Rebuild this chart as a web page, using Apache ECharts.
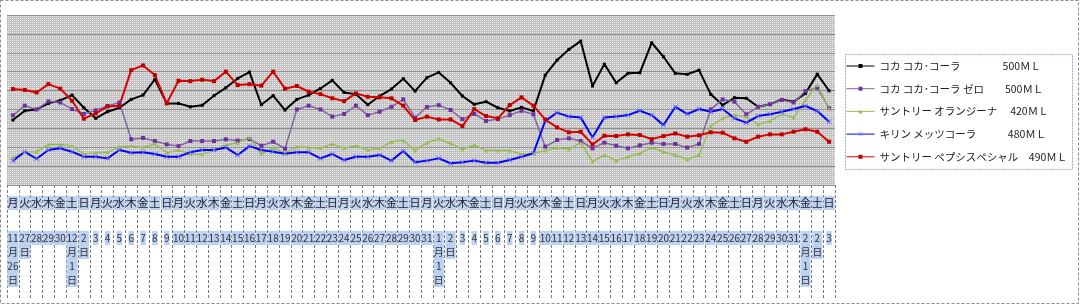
<!DOCTYPE html>
<html><head><meta charset="utf-8">
<script src="https://cdn.jsdelivr.net/npm/echarts@6/dist/echarts.min.js"></script>
<style>html,body{margin:0;padding:0;background:#fff}#c{width:1080px;height:305px}</style>
</head><body><div id="c"></div>
<script>
const seriesNames = [
  'コカ コカ･コーラ　　　　500ＭＬ',
  'コカ コカ･コーラ ゼロ　　500ＭＬ',
  'サントリー オランジーナ　 420ＭＬ',
  'キリン メッツコーラ　　　480ＭＬ',
  'サントリー ペプシスペシャル　490ＭＬ'
];
const days = ['月','火','水','木','金','土','日','月','火','水','木','金','土','日','月','火','水','木','金','土','日','月','火','水','木','金','土','日','月','火','水','木','金','土','日','月','火','水','木','金','土','日','月','火','水','木','金','土','日','月','火','水','木','金','土','日','月','火','水','木','金','土','日','月','火','水','木','金','土','日'];
const dates = ['11\n月\n26\n日','27\n日','28','29','30','12\n月\n1\n日','2\n日','3','4','5','6','7','8','9','10','11','12','13','14','15','16','17','18','19','20','21','22','23','24','25','26','27','28','29','30','31','1\n月\n1\n日','2\n日','3','4','5','6','7','8','9','10','11','12','13','14','15','16','17','18','19','20','21','22','23','24','25','26','27','28','29','30','31','2\n月\n1\n日','2\n日','3'];
const cocaCola = [34.4,39.3,40.0,43.2,44.8,47.6,40.9,35.3,38.8,40.9,45.3,47.6,55.9,43.2,43.2,41.4,42.2,47.3,51.5,56.4,59.8,42.5,47.3,39.7,45.3,47.6,51.1,55.4,49.0,48.0,42.5,47.1,50.8,56.3,49.7,56.8,59.6,54.1,47.1,42.7,44.1,40.9,39.2,41.1,39.2,58.2,66.1,71.8,76.2,52.4,64.0,54.1,59.1,59.4,75.3,67.9,59.1,58.6,60.8,48.0,42.3,46.2,45.9,41.4,42.7,45.3,44.1,48.5,58.7,49.9];
const cocaColaZero = [36.9,42.0,40.0,44.3,43.7,40.2,37.6,39.5,41.8,43.7,24.2,24.9,23.3,21.5,20.6,23.3,23.3,23.3,24.2,23.5,24.3,20.8,22.9,19.2,40.0,42.0,40.0,36.2,37.6,42.0,37.0,38.8,41.4,45.3,35.6,41.3,42.3,39.7,34.9,37.6,33.9,34.9,37.0,39.3,37.4,20.3,23.8,24.7,23.3,19.4,22.4,20.8,19.4,21.0,22.4,21.7,21.7,19.8,21.7,40.0,45.3,44.1,37.4,41.4,42.7,45.0,43.7,49.7,51.5,40.6];
const orangina = [14.5,17.5,17.6,21.5,21.5,20.6,16.4,17.1,17.3,20.3,20.6,19.9,21.7,17.1,18.5,16.4,16.2,18.5,21.2,22.4,25.2,16.4,19.8,16.8,20.3,19.9,19.4,21.7,19.4,20.8,18.5,19.4,22.9,23.5,18.2,22.4,24.5,22.0,18.9,21.2,18.2,18.2,18.2,16.4,16.8,18.2,19.8,18.9,22.4,12.3,15.9,12.9,15.0,16.8,19.8,17.6,15.9,13.6,15.9,31.2,35.3,37.0,36.2,32.1,33.9,37.4,35.8,45.0,52.9,40.6];
const metsCola = [12.9,17.5,13.9,18.5,19.4,17.6,15.0,15.0,14.1,18.5,17.1,17.3,16.4,15.0,15.0,17.3,18.5,18.5,19.8,15.9,20.6,18.5,17.6,16.6,17.3,17.3,14.1,16.4,13.2,15.0,15.0,15.9,12.9,18.0,12.0,12.9,14.1,11.5,12.0,12.9,11.8,11.8,13.2,15.0,16.8,33.9,38.3,36.2,35.8,25.2,35.8,36.2,37.0,39.3,37.0,31.7,41.4,37.6,40.2,38.8,40.2,35.3,33.0,36.5,37.4,38.8,40.2,41.8,39.2,33.5];
const pepsiSpecial = [50.8,50.3,49.0,53.4,51.0,44.6,35.1,37.9,41.6,42.0,60.8,63.3,58.2,43.2,55.2,55.0,55.7,55.0,60.0,52.9,53.4,52.6,60.0,51.0,52.4,49.4,48.1,45.9,44.4,48.5,46.7,46.4,45.9,42.0,34.4,36.2,34.7,34.7,31.2,40.2,36.5,35.3,42.3,46.4,42.0,34.7,30.5,27.9,28.2,21.5,26.1,25.9,26.8,26.5,24.3,25.9,27.3,25.6,26.3,27.9,27.7,24.7,22.9,25.6,26.8,26.8,28.2,29.5,28.2,22.9];

const cv = document.createElement('canvas');
cv.width = 2; cv.height = 2;
const cx = cv.getContext('2d');
cx.fillStyle = '#c2c2c2'; cx.fillRect(0,0,2,2);
cx.fillStyle = '#ececec'; cx.fillRect(0,0,1,1);

const FONT = '"Noto Sans CJK JP", "Noto Sans", sans-serif';
const xSym = 'path://M0,1L1,0L5,4L9,0L10,1L6,5L10,9L9,10L5,6L1,10L0,9L4,5Z';

function mk(name, data, lineColor, markColor, width, symbol, size) {
  return {
    name: name, type: 'line', data: data, symbol: symbol, symbolSize: size,
    showSymbol: true, animation: false,
    lineStyle: {color: lineColor, width: width},
    itemStyle: {color: markColor, borderColor: markColor, borderWidth: 0}
  };
}

const chart = echarts.init(document.getElementById('c'), null, {renderer: 'canvas'});
chart.setOption({
  animation: false,
  backgroundColor: '#ffffff',
  textStyle: {fontFamily: FONT},
  grid: {left: 7, top: 15, width: 828, height: 170, show: true,
    backgroundColor: {image: cv, repeat: 'repeat'}, borderWidth: 0},
  graphic: [
    {type: 'rect', z: -10, silent: true, shape: {x: 0.5, y: 0.5, width: 1078, height: 303},
      style: {fill: null, stroke: '#8a8a8a', lineWidth: 1, lineDash: [3, 2]}},
    {type: 'rect', z: 1, silent: true, shape: {x: 845.5, y: 54.5, width: 227, height: 115},
      style: {fill: '#ffffff', stroke: '#9ea6d6', lineWidth: 1, lineDash: [2, 1]}}
  ],
  legend: {
    orient: 'vertical', left: 846, top: 59, itemWidth: 28, itemHeight: 5, itemGap: 8.7,
    padding: 0, z: 5,
    lineStyle: {width: 1},
    textStyle: {fontSize: 10.5, color: '#222', fontFamily: FONT, lineHeight: 14},
    data: seriesNames
  },
  xAxis: [
    {type: 'category', data: days, gridIndex: 0, position: 'bottom',
      axisLine: {show: false},
      axisTick: {show: true, interval: 0, length: 113, lineStyle: {color: '#7a7a7a', type: [3, 2], width: 1}},
      axisLabel: {interval: 0, margin: 11, fontSize: 11, color: '#222', lineHeight: 14,
        backgroundColor: '#bcd0f2', fontFamily: FONT},
      splitLine: {show: false}},
    {type: 'category', data: dates, gridIndex: 0, position: 'bottom',
      axisLine: {show: false}, axisTick: {show: false},
      axisLabel: {interval: 0, margin: 46, fontSize: 10, color: '#333', lineHeight: 14,
        backgroundColor: '#bcd0f2', fontFamily: FONT},
      splitLine: {show: false}}
  ],
  yAxis: {type: 'value', min: 0, max: 90, interval: 10,
    axisLabel: {show: false}, axisLine: {show: false}, axisTick: {show: false},
    splitLine: {show: true, lineStyle: {color: '#909090', width: 1}}},
  series: [
    mk(seriesNames[0], cocaCola, '#000000', '#000000', 2, 'rect', 3),
    mk(seriesNames[1], cocaColaZero, '#8064a2', '#7030a0', 1.5, 'rect', 4),
    mk(seriesNames[2], orangina, '#9bbb59', '#9bbb59', 1.5, 'triangle', 4),
    mk(seriesNames[3], metsCola, '#0000ff', '#6060ff', 2, xSym, 5),
    mk(seriesNames[4], pepsiSpecial, '#e00000', '#c00000', 2, 'rect', 4)
  ]
});
</script></body></html>
